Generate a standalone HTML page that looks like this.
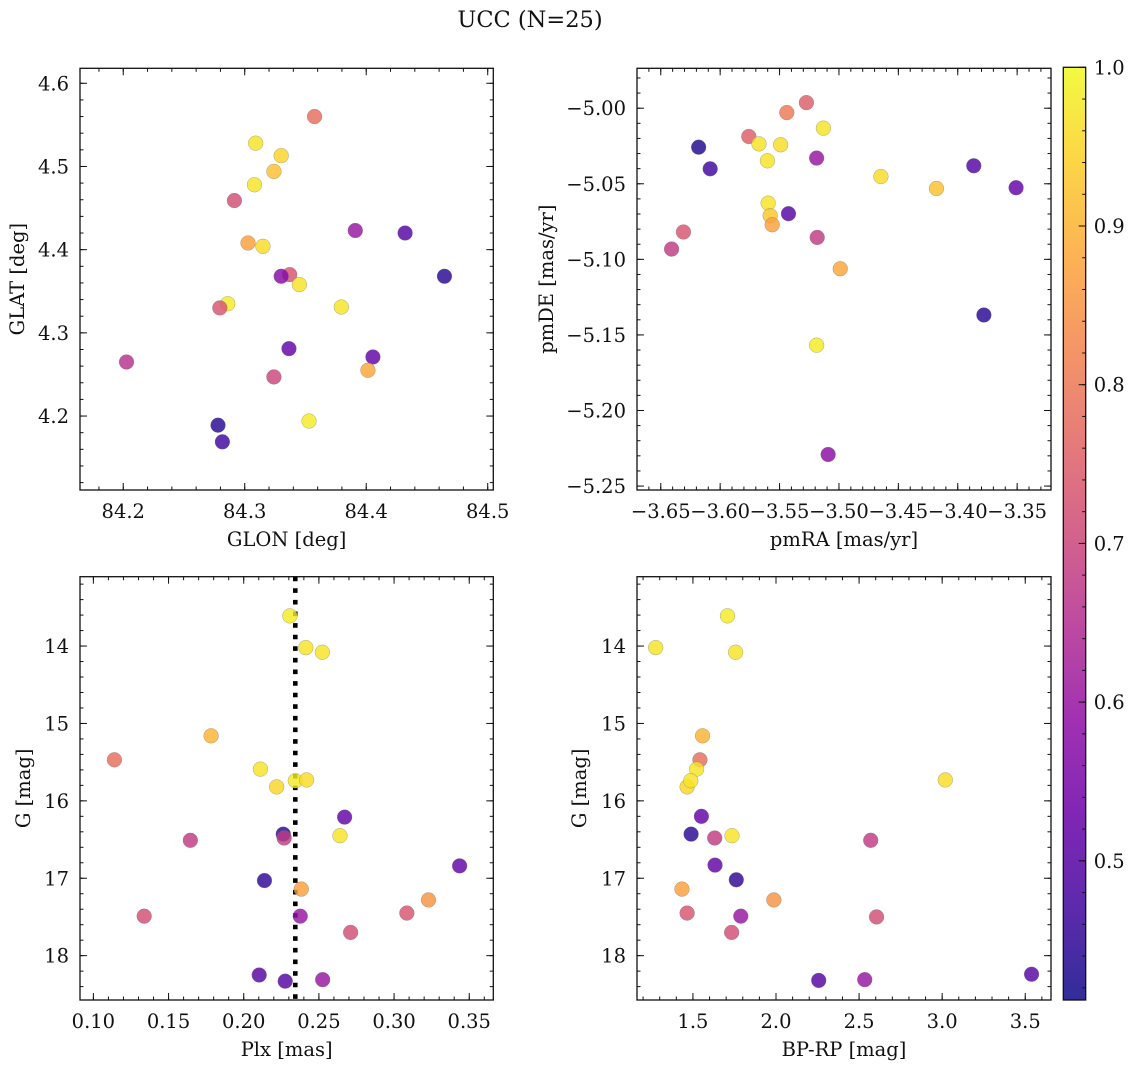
<!DOCTYPE html>
<html>
<head>
<meta charset="utf-8">
<style>
html,body{margin:0;padding:0;background:#fff;}
svg{display:block;font-family:"DejaVu Serif","Liberation Serif",serif;}
</style>
</head>
<body>
<svg id="fig" width="1136" height="1067" viewBox="0 0 1136 1067" xmlns="http://www.w3.org/2000/svg">
<rect x="0" y="0" width="1136" height="1067" fill="#fff"/>
<text x="530" y="27" font-size="22.5" text-anchor="middle" fill="#111">UCC (N=25)</text>
</svg>
<script>
// ---- data: panel 1 (GLON vs GLAT)
const glon = [84.3575,84.309,84.330,84.324,84.308,84.2915,84.391,84.432,84.3027,84.315,84.337,84.330,84.4644,84.345,84.286,84.3795,84.2795,84.2027,84.3364,84.4055,84.324,84.4014,84.3529,84.278,84.2816];
const glat = [4.560,4.528,4.513,4.494,4.478,4.459,4.423,4.420,4.408,4.404,4.370,4.368,4.368,4.358,4.335,4.331,4.330,4.265,4.281,4.271,4.247,4.255,4.194,4.189,4.169];
const prob1 = [0.78,0.97,0.95,0.92,0.97,0.72,0.60,0.50,0.87,0.96,0.73,0.57,0.44,0.97,0.98,0.97,0.73,0.66,0.52,0.52,0.70,0.88,0.98,0.44,0.47];
// ---- data: panel 2 (pmRA vs pmDE)
const pmra = [-3.5274,-3.5439,-3.5131,-3.5759,-3.5673,-3.5491,-3.6181,-3.5188,-3.5602,-3.6084,-3.3865,-3.4647,-3.4179,-3.3509,-3.5596,-3.5579,-3.5562,-3.5425,-3.6309,-3.6409,-3.5183,-3.4989,-3.3780,-3.5188,-3.5091];
const pmde = [-4.9963,-5.0029,-5.0132,-5.0187,-5.0236,-5.0242,-5.0258,-5.0330,-5.0348,-5.0401,-5.0381,-5.0452,-5.0531,-5.0526,-5.0628,-5.0711,-5.0771,-5.0698,-5.0819,-5.0932,-5.0855,-5.1062,-5.1368,-5.1568,-5.2291];
const prob2 = [0.75,0.80,0.97,0.75,0.97,0.96,0.43,0.60,0.97,0.47,0.50,0.96,0.92,0.52,0.97,0.93,0.87,0.50,0.73,0.68,0.68,0.88,0.44,0.98,0.58];
// ---- data: panel 3 (Plx vs G)
const plx = [0.2307,0.2413,0.2523,0.1783,0.1140,0.2111,0.2219,0.2343,0.2418,0.2671,0.2640,0.2263,0.2269,0.1645,0.3436,0.2138,0.2383,0.3229,0.3085,0.1338,0.2376,0.2711,0.2103,0.2276,0.2525];
const gmag3 = [13.61,14.02,14.08,15.16,15.47,15.59,15.82,15.74,15.73,16.21,16.45,16.43,16.48,16.51,16.84,17.03,17.14,17.28,17.45,17.49,17.49,17.70,18.25,18.33,18.31];
const prob3 = [0.98,0.97,0.97,0.90,0.78,0.97,0.95,0.98,0.96,0.52,0.97,0.44,0.68,0.68,0.52,0.45,0.87,0.85,0.73,0.72,0.60,0.72,0.50,0.50,0.60];
const plxMedian = [0.2343];
// ---- data: panel 4 (BP-RP vs G)
const bprp = [1.708,1.276,1.757,1.558,1.542,1.522,1.465,1.487,3.019,1.551,1.735,1.489,1.631,2.570,1.633,1.761,1.434,1.987,1.465,2.605,1.788,1.733,3.538,2.257,2.534];
const gmag4 = [13.61,14.02,14.08,15.16,15.47,15.59,15.82,15.74,15.73,16.20,16.45,16.43,16.48,16.51,16.83,17.02,17.14,17.28,17.45,17.50,17.49,17.70,18.24,18.32,18.31];
const prob4 = [0.98,0.97,0.97,0.90,0.78,0.97,0.95,0.97,0.96,0.52,0.97,0.44,0.68,0.68,0.52,0.45,0.87,0.85,0.73,0.72,0.60,0.72,0.50,0.50,0.60];
// ---- tick labels
const ticks1x = [84.2,84.3,84.4,84.5];
const ticks1y = [4.2,4.3,4.4,4.5,4.6];
const ticks2x = [-3.65,-3.60,-3.55,-3.50,-3.45,-3.40,-3.35];
const ticks2y = [-5.25,-5.20,-5.15,-5.10,-5.05,-5.00];
const ticks3x = [0.10,0.15,0.20,0.25,0.30,0.35];
const ticksGy = [14,15,16,17,18];
const ticks4x = [1.5,2.0,2.5,3.0,3.5];
const cbTicks = [0.5,0.6,0.7,0.8,0.9,1.0];
const cbRange = [0.4123,1.0];

const FS = 19.5;
const NS = "http://www.w3.org/2000/svg";
const svg = document.getElementById('fig');
function mk(tag, attrs, parent){
  const e = document.createElementNS(NS, tag);
  for (const k in attrs) e.setAttribute(k, attrs[k]);
  (parent||svg).appendChild(e);
  return e;
}
const plasma = ["#0d0887","#41049d","#6a00a8","#8f0da4","#b12a90","#cc4778","#e16462","#f2844b","#fca636","#fcce25","#f0f921"];
function hex(h){return [parseInt(h.substr(1,2),16),parseInt(h.substr(3,2),16),parseInt(h.substr(5,2),16)];}
function cmap(t){
  t=Math.max(0,Math.min(1,t));
  const f=t*10, i=Math.min(9,Math.floor(f)), r=f-i;
  const a=hex(plasma[i]), b=hex(plasma[i+1]);
  return 'rgb('+a.map((v,k)=>Math.round(v+(b[k]-v)*r)).join(',')+')';
}
function norm(p){return (p-cbRange[0])/(cbRange[1]-cbRange[0]);}
function fmtMinus(s){return s.replace('-','\u2212');}

function panel(cfg){
  const g = mk('g',{});
  
  
  const {L,R,T,B} = cfg.box;
  const sx = v => L + (v-cfg.xlim[0])/(cfg.xlim[1]-cfg.xlim[0])*(R-L);
  const sy = cfg.invert ? (v => T + (v-cfg.ylim[0])/(cfg.ylim[1]-cfg.ylim[0])*(B-T))
                        : (v => B - (v-cfg.ylim[0])/(cfg.ylim[1]-cfg.ylim[0])*(B-T));
  const tg = mk('g',{stroke:'#111','stroke-width':1},g);
  const xs = Math.ceil(cfg.xlim[0]/cfg.xminor-1e-6);
  for (let k=xs; k*cfg.xminor<=cfg.xlim[1]+1e-9; k++){
    const x = sx(k*cfg.xminor);
    mk('line',{x1:x,x2:x,y1:B,y2:B-3.5},tg); mk('line',{x1:x,x2:x,y1:T,y2:T+3.5},tg);
  }
  const ys = Math.ceil(cfg.ylim[0]/cfg.yminor-1e-6);
  for (let k=ys; k*cfg.yminor<=cfg.ylim[1]+1e-9; k++){
    const y = sy(k*cfg.yminor);
    mk('line',{x1:L,x2:L+3.5,y1:y,y2:y},tg); mk('line',{x1:R,x2:R-3.5,y1:y,y2:y},tg);
  }
  cfg.xt.forEach(v=>{
    const x=sx(v);
    mk('line',{x1:x,x2:x,y1:B,y2:B-7},tg); mk('line',{x1:x,x2:x,y1:T,y2:T+7},tg);
    const t=mk('text',{x:x,y:B+28,'font-size':FS,'text-anchor':'middle',fill:'#111'},g);
    
    
    t.textContent=fmtMinus(v.toFixed(cfg.xdec));
  });
  cfg.yt.forEach(v=>{
    const y=sy(v);
    mk('line',{x1:L,x2:L+7,y1:y,y2:y},tg); mk('line',{x1:R,x2:R-7,y1:y,y2:y},tg);
    const t=mk('text',{x:L-11,y:y+7,'font-size':FS,'text-anchor':'end',fill:'#111'},g);
    
    
    t.textContent=fmtMinus(v.toFixed(cfg.ydec));
  });
  if (cfg.vline!==undefined){
    const x=sx(cfg.vline);
    const ln=mk('line',{x1:x,x2:x,y1:T,y2:B,stroke:'#000','stroke-width':4.6,'stroke-dasharray':'4.6 7'},g);
    
    
  }
  const pg = mk('g',{},g);
  cfg.x.forEach((v,i)=>{
    const c=mk('circle',{cx:sx(v),cy:sy(cfg.y[i]),r:7.4,fill:cmap(norm(cfg.p[i])),'fill-opacity':0.82,stroke:'#777','stroke-opacity':0.6,'stroke-width':0.5},pg);
    
    
  });
  const fr=mk('rect',{x:L,y:T,width:R-L,height:B-T,fill:'none',stroke:'#111','stroke-width':1.3},g);
  
  
  const xl=mk('text',{x:(L+R)/2,y:B+56,'font-size':FS,'text-anchor':'middle',fill:'#111'},g);
  
  
  xl.textContent=cfg.xlabel;
  const yx=cfg.ylx, yy=(T+B)/2;
  const yl=mk('text',{x:yx,y:yy,'font-size':FS,'text-anchor':'middle',fill:'#111',transform:'rotate(-90 '+yx+' '+yy+')'},g);
  
  
  yl.textContent=cfg.ylabel;
}

panel({name:'panel-glon-glat',box:{L:80,R:493.3,T:68.3,B:490},xlim:[84.1644,84.5046],ylim:[4.1111,4.618],
  xt:ticks1x,yt:ticks1y,xminor:0.02,yminor:0.02,xdec:1,ydec:1,x:glon,y:glat,p:prob1,xlabel:'GLON [deg]',ylabel:'GLAT [deg]',ylx:24});
panel({name:'panel-pmra-pmde',box:{L:637,R:1051,T:68.3,B:490},xlim:[-3.670,-3.3215],ylim:[-5.2526,-4.9736],
  xt:ticks2x,yt:ticks2y,xminor:0.01,yminor:0.01,xdec:2,ydec:2,x:pmra,y:pmde,p:prob2,xlabel:'pmRA [mas/yr]',ylabel:'pmDE [mas/yr]',ylx:553});
panel({name:'panel-plx-g',box:{L:80,R:493.3,T:576.7,B:1000},xlim:[0.0911,0.366],ylim:[13.104,18.573],invert:true,
  xt:ticks3x,yt:ticksGy,xminor:0.01,yminor:0.2,xdec:2,ydec:0,x:plx,y:gmag3,p:prob3,xlabel:'Plx [mas]',ylabel:'G [mag]',ylx:30,vline:plxMedian[0]});
panel({name:'panel-bprp-g',box:{L:637,R:1051,T:576.7,B:1000},xlim:[1.1634,3.655],ylim:[13.104,18.573],invert:true,
  xt:ticks4x,yt:ticksGy,xminor:0.1,yminor:0.2,xdec:1,ydec:0,x:bprp,y:gmag4,p:prob4,xlabel:'BP-RP [mag]',ylabel:'G [mag]',ylx:586});

(function(){
  const L=1063.3,R=1085.7,T=67.3,B=1000;
  const cb=mk('g',{});
  
  
  const defs=mk('defs',{},cb);
  const grad=mk('linearGradient',{id:'cbg',x1:0,y1:1,x2:0,y2:0},defs);
  for(let i=0;i<=20;i++){
    mk('stop',{offset:(i/20),'stop-color':cmap(i/20),'stop-opacity':0.85},grad);
  }
  mk('rect',{x:L,y:T,width:R-L,height:B-T,fill:'url(#cbg)',stroke:'#111','stroke-width':1.3},cb);
  const sy=v=>B-(v-cbRange[0])/(cbRange[1]-cbRange[0])*(B-T);
  for(let k=Math.ceil(cbRange[0]/0.02);k*0.02<=cbRange[1]+1e-9;k++){
    const y=sy(k*0.02); mk('line',{x1:R,x2:R-3.5,y1:y,y2:y,stroke:'#111'},cb);
  }
  cbTicks.forEach(v=>{
    const y=sy(v);
    mk('line',{x1:R,x2:R-7,y1:y,y2:y,stroke:'#111'},cb);
    const t=mk('text',{x:R+8,y:y+7,'font-size':FS,fill:'#111'},cb);
    
    
    t.textContent=v.toFixed(1);
  });
})();
</script>
</body>
</html>
